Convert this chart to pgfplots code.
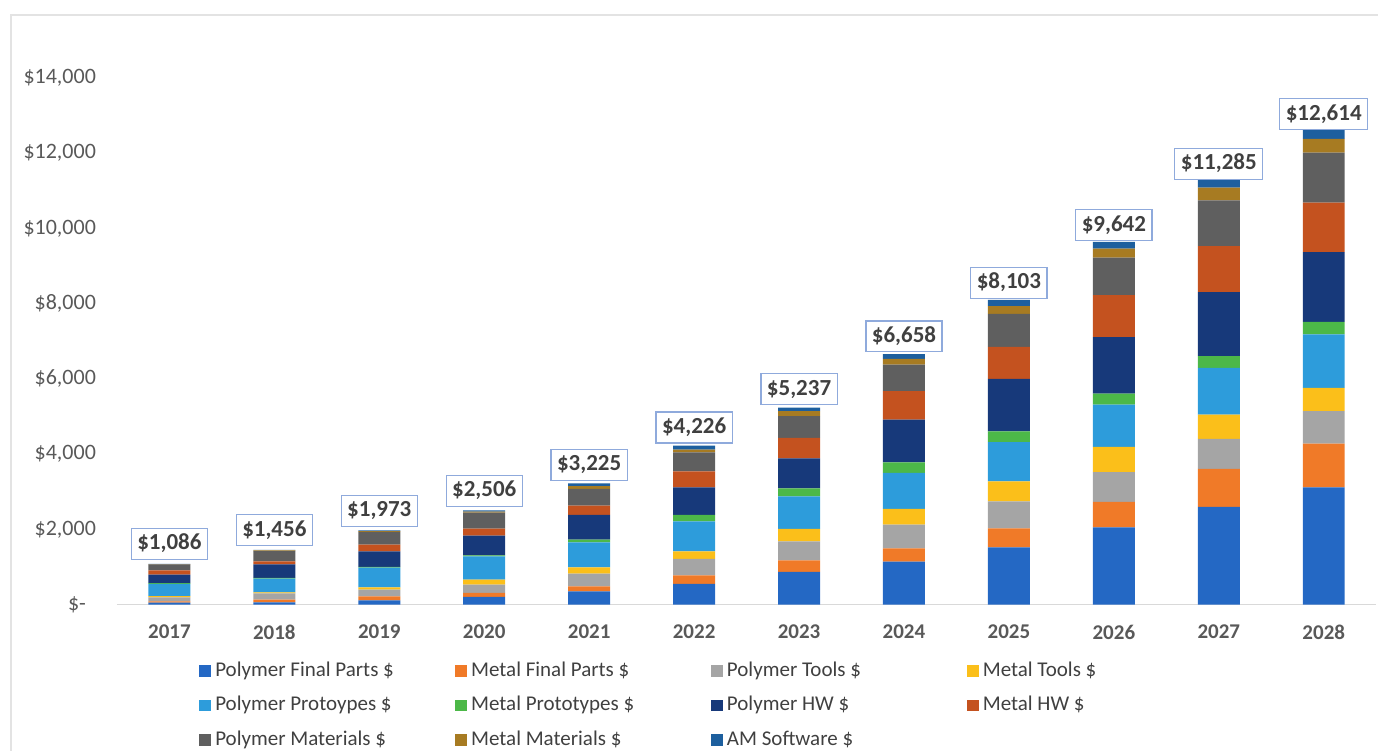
\documentclass[border=0pt]{standalone}
\usepackage{pgfplots}
\pgfplotsset{compat=1.18}
\usepackage{pgfplotstable}
\usepackage{fontspec}
\setmainfont{Carlito}

\definecolor{cpfp}{HTML}{2468C4}
\definecolor{cmfp}{HTML}{F07A28}
\definecolor{cpt}{HTML}{A5A5A5}
\definecolor{cmt}{HTML}{FBBF1A}
\definecolor{cpp}{HTML}{2D9CDB}
\definecolor{cmp}{HTML}{4CB848}
\definecolor{cphw}{HTML}{17397A}
\definecolor{cmhw}{HTML}{C4521F}
\definecolor{cpm}{HTML}{5F5F5F}
\definecolor{cmm}{HTML}{A77B22}
\definecolor{cam}{HTML}{1D5F9E}
\definecolor{ticktext}{HTML}{595959}
\definecolor{labtext}{HTML}{404040}
\definecolor{boxline}{HTML}{8FAADC}
\definecolor{axisgray}{HTML}{D9D9D9}
\definecolor{framegray}{HTML}{E3E3E3}

\pgfplotstableread{
x pfp mfp pt mt pp mp phw mhw pm mm am total
0 55 30 110 30 330 15 230 110 160 8 8 1086
1 61 72 164 30 368 15 362 80 274 15 15 1456
2 115 106 178 62 521 20 416 178 337 20 20 1973
3 205 106 221 133 621 25 524 186 425 30 30 2506
4 354 133 337 168 665 72 657 247 443 74 75 3225
5 551 228 436 203 797 171 734 425 506 71 104 4226
6 870 308 506 329 868 212 798 542 575 133 96 5237
7 1144 353 631 417 958 282 1135 753 710 152 123 6658
8 1524 505 718 532 1038 292 1394 850 878 203 169 8103
9 2057 674 789 674 1125 293 1498 1117 995 240 180 9642
10 2598 1010 798 647 1242 309 1702 1224 1215 340 200 11285
11 3120 1162 859 622 1418 338 1851 1313 1330 370 231 12614
}\datatable

\newcommand{\legtxt}[1]{\makebox[118pt][l]{#1}}

\begin{document}
\begin{tikzpicture}
\begin{axis}[
  scale only axis, width=630pt, height=263.5pt,
  ybar stacked, bar width=21pt,
  xmin=-0.5, xmax=11.5, ymin=0, ymax=14000,
  clip=false, scaled y ticks=false,
  axis x line*=bottom, axis y line*=left,
  y axis line style={draw=none},
  x axis line style={draw=axisgray, line width=0.8pt},
  tick style={draw=none},
  xtick={0,1,2,3,4,5,6,7,8,9,10,11},
  xticklabels={2017,2018,2019,2020,2021,2022,2023,2024,2025,2026,2027,2028},
  ytick={0,2000,4000,6000,8000,10000,12000,14000},
  yticklabels={{\$-\rule{5pt}{0pt}},{\$2,000},{\$4,000},{\$6,000},{\$8,000},{\$10,000},{\$12,000},{\$14,000}},
  xticklabel style={font=\bfseries\fontsize{10.5}{12}\selectfont, text=ticktext, anchor=north, yshift=-6.5pt},
  yticklabel style={font=\fontsize{11}{13}\selectfont, text=ticktext, anchor=east, xshift=-7pt},
  legend columns=4,
  legend image code/.code={\fill[#1] (0pt,-3pt) rectangle (6pt,3pt);},
  legend style={draw=none, fill=none, at={(rel axis cs:0,0)}, anchor=north west,
    xshift=41pt, yshift=-25.5pt, inner sep=0pt, row sep=3pt,
    font=\fontsize{10.5}{12}\selectfont, text=labtext,
    nodes={inner sep=2pt, text height=8pt, text depth=2.5pt},
    /tikz/every even column/.append style={column sep=0pt},
    /tikz/every odd column/.append style={column sep=0pt}},
  legend cell align=left,
]
\addplot[fill=cpfp, draw=none] table[x=x, y=pfp] {\datatable};
\addlegendentry{\legtxt{Polymer Final Parts \$}}
\addplot[fill=cmfp, draw=none] table[x=x, y=mfp] {\datatable};
\addlegendentry{\legtxt{Metal Final Parts \$}}
\addplot[fill=cpt, draw=none] table[x=x, y=pt] {\datatable};
\addlegendentry{\legtxt{Polymer Tools \$}}
\addplot[fill=cmt, draw=none] table[x=x, y=mt] {\datatable};
\addlegendentry{\legtxt{Metal Tools \$}}
\addplot[fill=cpp, draw=none] table[x=x, y=pp] {\datatable};
\addlegendentry{\legtxt{Polymer Protoypes \$}}
\addplot[fill=cmp, draw=none] table[x=x, y=mp] {\datatable};
\addlegendentry{\legtxt{Metal Prototypes \$}}
\addplot[fill=cphw, draw=none] table[x=x, y=phw] {\datatable};
\addlegendentry{\legtxt{Polymer HW \$}}
\addplot[fill=cmhw, draw=none] table[x=x, y=mhw] {\datatable};
\addlegendentry{\legtxt{Metal HW \$}}
\addplot[fill=cpm, draw=none] table[x=x, y=pm] {\datatable};
\addlegendentry{\legtxt{Polymer Materials \$}}
\addplot[fill=cmm, draw=none] table[x=x, y=mm] {\datatable};
\addlegendentry{\legtxt{Metal Materials \$}}
\addplot[fill=cam, draw=none,
  point meta=explicit,
  nodes near coords={\$\pgfmathprintnumber[fixed,precision=0,1000 sep={,},assume math mode=true]{\pgfplotspointmeta}},
  every node near coord/.append style={font=\bfseries\fontsize{11.5}{13}\selectfont, text=labtext,
    draw=boxline, line width=0.6pt, fill=white, inner xsep=3pt, inner ysep=2.5pt,
    text height=8.3pt, text depth=2.2pt, anchor=south, yshift=2pt}
  ] table[x=x, y=am, meta=total] {\datatable};
\addlegendentry{\legtxt{AM Software \$}}
\end{axis}
\draw[framegray, line width=0.8pt] (-53pt,-73pt) -- (-53pt,295pt) -- (631pt,295pt);
\path[use as bounding box] (-58.5pt,-73pt) rectangle (631pt,302.5pt);
\end{tikzpicture}
\end{document}
